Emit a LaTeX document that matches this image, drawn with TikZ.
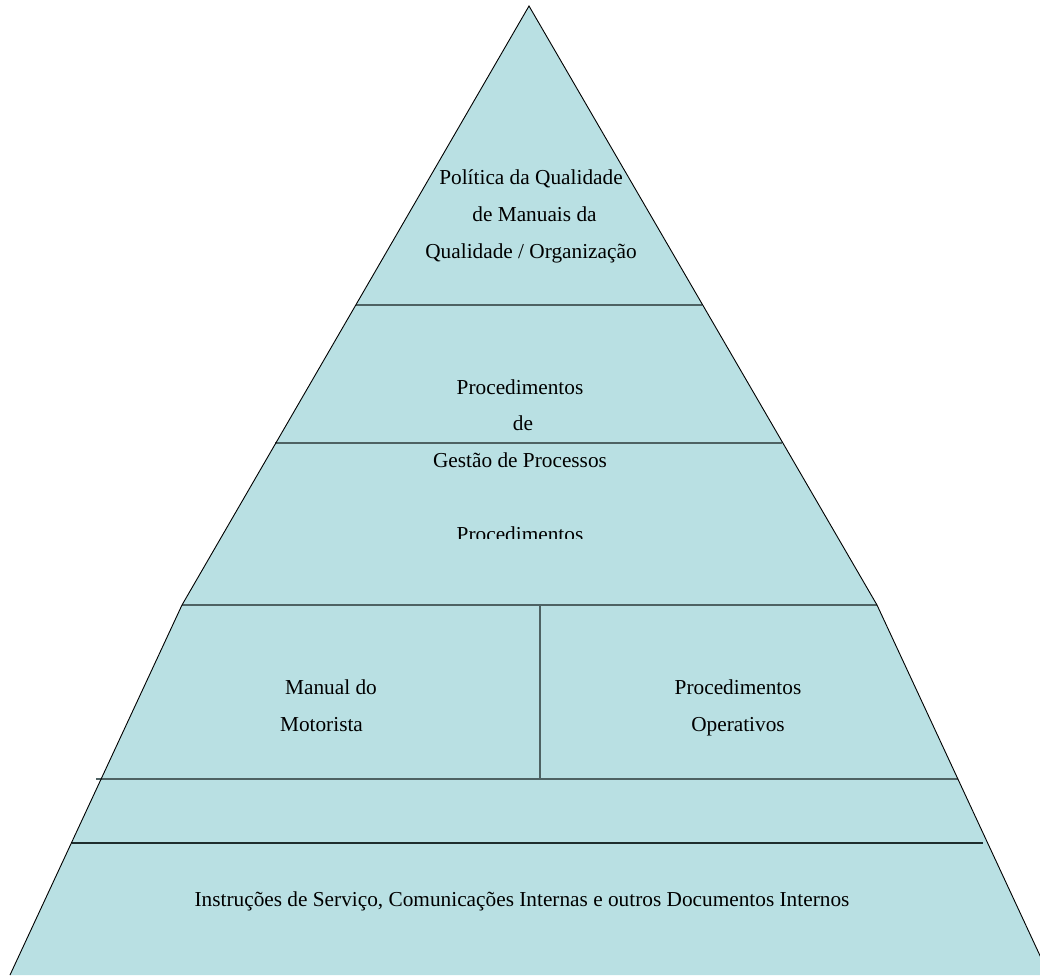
\documentclass[tikz,border=0pt]{standalone}
\usepackage{fontspec}
\setmainfont{Liberation Serif}
\definecolor{pfill}{RGB}{185,224,227}
\definecolor{sepgray}{RGB}{78,98,99}
\definecolor{sepdark}{RGB}{30,45,46}
\begin{document}
\begin{tikzpicture}[x=1pt,y=-1pt,
  lbl/.style={anchor=base,inner sep=0pt,font=\fontsize{21.3}{25}\selectfont},
  edgeline/.style={draw=black,line width=0.9pt},
  sepline/.style={draw=sepgray,line width=2pt},
  sepdk/.style={draw=sepdark,line width=1.4pt}]
\useasboundingbox (0,0) rectangle (1040,975);
\clip (0,0) rectangle (1040,975);
% outline points
\coordinate (apex) at (529,6);
\coordinate (lm) at (182,605);
\coordinate (rm) at (877,605);
\coordinate (lb) at (10,975);
\coordinate (rb) at (1049,975);
\fill[pfill] (apex) -- (lm) -- (lb) -- (rb) -- (rm) -- cycle;
% separators
\coordinate (s1l) at (356,305);  \coordinate (s1r) at (702,305);
\coordinate (s2l) at (275,443);  \coordinate (s2r) at (782,443);
\coordinate (s3l) at (182,605);  \coordinate (s3r) at (877,605);
\coordinate (s4l) at (96,779);   \coordinate (s4r) at (958,779);
\coordinate (s5l) at (72,843);   \coordinate (s5r) at (983,843);
\coordinate (vt) at (540,605);   \coordinate (vb) at (540,779);
\draw[sepline] (s1l) -- (s1r);
\draw[sepline] (s2l) -- (s2r);
\draw[sepline] (s3l) -- (s3r);
\draw[sepline] (s4l) -- (s4r);
\draw[sepline] (vt) -- (vb);
\draw[sepdk] (s5l) -- (s5r);
% edges
\draw[edgeline] (lb) -- (lm) -- (apex) -- (rm) -- (rb);
% texts
\node[lbl] (t1) at (531,184) {Política da Qualidade};
\node[lbl] (t2) at (534.5,221.7) {de Manuais da};
\node[lbl] (t3) at (531,258) {Qualidade / Organização};
\node[lbl] (t4) at (520,394) {Procedimentos};
\node[lbl] (t5) at (523,430) {de};
\node[lbl] (t6) at (520,467) {Gestão de Processos};
\begin{scope}
\clip (300,500) rectangle (740,538);
\node[lbl] (t7) at (520,541) {Procedimentos};
\end{scope}
\node[lbl] (t8) at (331,694) {Manual do};
\node[lbl] (t9) at (321.5,731.5) {Motorista};
\node[lbl] (t10) at (738,694) {Procedimentos};
\node[lbl] (t11) at (738,731.5) {Operativos};
\node[lbl] (t12) at (522,906) {Instruções de Serviço, Comunicações Internas e outros Documentos Internos};
\end{tikzpicture}
\end{document}
